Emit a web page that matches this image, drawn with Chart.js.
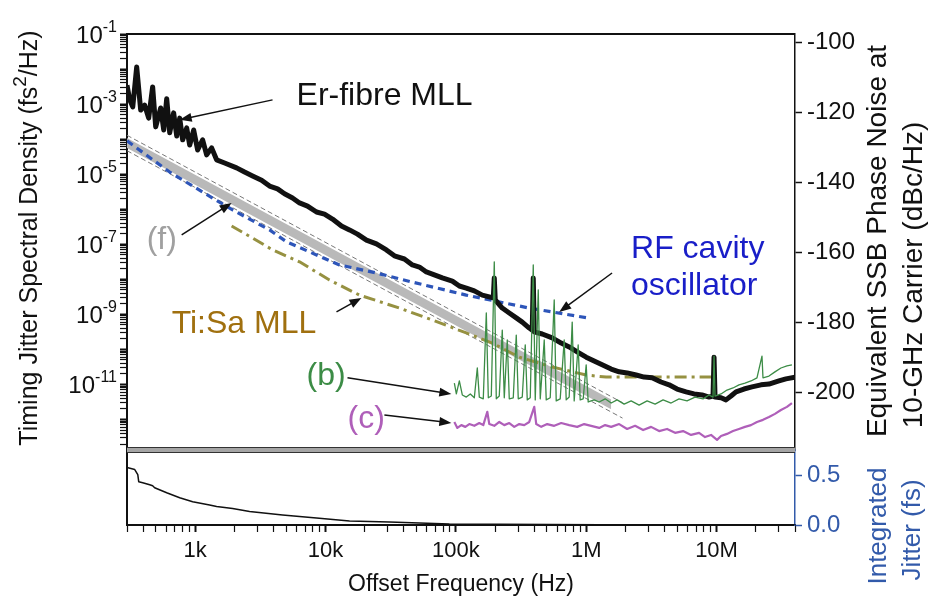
<!DOCTYPE html>
<html>
<head>
<meta charset="utf-8">
<title>Timing jitter spectral density</title>
<script src="https://cdn.jsdelivr.net/npm/chart.js@4.4.1/dist/chart.umd.min.js"></script>
<style>
  html, body { margin: 0; padding: 0; background: #fff; }
  #wrap { position: relative; width: 928px; height: 607px; overflow: hidden; }
  #psd { position: absolute; left: 0; top: 0; }
  #jit { position: absolute; left: 0; top: 445px; }
</style>
</head>
<body>
<div id="wrap">
  <canvas id="psd" width="928" height="455"></canvas>
  <canvas id="jit" width="928" height="162"></canvas>
</div>
<script>
// Series: [offset frequency (Hz), log10 of timing jitter PSD (fs^2/Hz)]
const erFibre = [
  [300,-2.46],[315,-2.88],[332,-3.08],[356,-1.94],[382,-3.17],[410,-3.03],[440,-3.40],[472,-2.51],
  [498,-3.65],[544,-3.11],[574,-3.74],[605,-2.85],[638,-3.82],[684,-3.25],[722,-3.91],[761,-3.40],
  [802,-4.02],[861,-3.68],[908,-4.17],[974,-3.74],[1045,-4.31],[1141,-4.02],[1225,-4.45],[1338,-4.25],
  [1461,-4.59],[1683,-4.68],[2080,-4.82],[2394,-4.94],[2758,-5.05],[3233,-5.17],[3723,-5.34],[4287,-5.42],
  [4850,-5.56],[5586,-5.68],[6321,-5.82],[7280,-5.91],[8531,-6.08],[9824,-6.14],[11310,-6.28],[13260,-6.48],
  [15280,-6.59],[17590,-6.71],[20620,-6.88],[24590,-6.99],[29340,-7.16],[33790,-7.33],[40300,-7.42],
  [46420,-7.59],[52520,-7.65],[59410,-7.79],[66060,-7.85],[78790,-7.96],[94000,-8.05],[106400,-8.19],
  [120300,-8.25],[138600,-8.33],[159600,-8.45],[180600,-8.50],[193800,-8.53],[197200,-7.96],[200700,-8.59],
  [227100,-8.82],[257000,-8.96],[290800,-9.10],[323300,-9.22],[365800,-9.39],[385700,-9.45],[392600,-7.96],
  [399600,-9.50],[460000,-9.56],[548800,-9.67],[643200,-9.82],[740600,-9.93],[853100,-10.07],[1.0e6,-10.22],
  [1.151e6,-10.33],[1.326e6,-10.44],[1.555e6,-10.56],[1.79e6,-10.64],[2.062e6,-10.67],[2.416e6,-10.73],
  [2.782e6,-10.79],[3.204e6,-10.81],[3.755e6,-10.93],[4.325e6,-11.01],[4.981e6,-11.13],[5.84e6,-11.21],
  [6.724e6,-11.27],[7.743e6,-11.30],[8.76e6,-11.36],[9.40e6,-11.33],[9.57e6,-10.22],[9.74e6,-11.36],
  [1.083e7,-11.38],[1.182e7,-11.44],[1.292e7,-11.33],[1.411e7,-11.21],[1.624e7,-11.13],[1.871e7,-11.07],
  [2.193e7,-11.01],[2.526e7,-10.99],[3.012e7,-10.90],[3.409e7,-10.84],[4.0e7,-10.79]
];
const rfCavity = [
  [300,-4.05],[638,-4.94],[1141,-5.51],[1938,-6.02],[3723,-6.59],[5024,-6.93],[12800,-7.59],
  [24590,-7.82],[46420,-8.08],[120300,-8.45],[365800,-8.82],[1.018e6,-9.10]
];
const tiSapphire = [
  [1904,-6.48],[2758,-6.82],[3925,-7.16],[6321,-7.50],[10730,-8.02],[18220,-8.45],[36900,-8.82],
  [66060,-9.16],[120300,-9.53],[190400,-9.82],[306600,-10.22],[548800,-10.50],[1.0e6,-10.73],
  [1.423e6,-10.79],[9.24e6,-10.79]
];
// (f): shaded range with dashed bounds
const bandTop = [[300,-3.97],[1.555e6,-11.43]];
const bandBottom = [[300,-4.25],[1.555e6,-11.71]];
const boundUpper = [[300,-3.89],[1.9e6,-11.52]];
const boundLower = [[300,-4.33],[1.9e6,-11.96]];
// (b) out-of-loop measurement
const traceB = [
  [97400,-10.96],[100900,-11.27],[106400,-10.90],[112100,-11.30],[120300,-11.36],[129100,-11.27],
  [138600,-11.38],[146100,-10.53],[151400,-11.36],[162400,-11.41],[171300,-8.96],[177500,-11.38],
  [187100,-11.33],[197200,-7.50],[204300,-11.41],[215400,-11.33],[227100,-9.45],[235300,-11.38],
  [248100,-9.73],[257000,-11.41],[275800,-11.38],[290800,-9.59],[301200,-11.41],[323300,-11.36],
  [340800,-9.87],[353100,-11.44],[372300,-11.38],[392600,-7.59],[406700,-11.44],[428800,-8.30],
  [444100,-11.41],[476600,-9.73],[493600,-11.44],[529800,-11.38],[568600,-8.59],[589000,-11.47],
  [632000,-11.41],[678200,-9.73],[702600,-11.44],[740600,-11.36],[781200,-9.22],[809100,-11.47],
  [868200,-9.87],[899500,-11.44],[948400,-11.41],[1.0e6,-10.44],[1.036e6,-11.50],[1.151e6,-11.44],
  [1.258e6,-11.50],[1.398e6,-11.41],[1.555e6,-11.53],[1.728e6,-11.44],[1.955e6,-11.56],[2.212e6,-11.47],
  [2.547e6,-11.59],[2.934e6,-11.47],[3.379e6,-11.56],[3.89e6,-11.44],[4.481e6,-11.53],[5.159e6,-11.41],
  [5.941e6,-11.47],[6.843e6,-11.36],[7.88e6,-11.41],[8.76e6,-11.30],[9.4e6,-11.36],[9.57e6,-10.19],
  [9.74e6,-11.33],[1.083e7,-11.27],[1.203e7,-11.16],[1.338e7,-11.10],[1.487e7,-11.01],[1.653e7,-10.96],
  [1.838e7,-10.90],[2.043e7,-10.81],[2.232e7,-10.19],[2.272e7,-10.81],[2.526e7,-10.76],[2.807e7,-10.64],
  [3.121e7,-10.53],[3.469e7,-10.47],[3.789e7,-10.44]
];
// (c) measurement floor
const traceC = [
  [97400,-12.07],[102700,-12.24],[110200,-12.16],[118300,-12.21],[126900,-12.13],[138600,-12.18],
  [151400,-12.10],[162400,-12.16],[174300,-11.78],[180600,-12.13],[197200,-12.18],[215400,-12.07],
  [235300,-12.16],[257000,-12.10],[280700,-12.21],[306600,-12.13],[334800,-12.16],[365800,-12.07],
  [399600,-11.64],[413800,-12.13],[451900,-12.21],[502400,-12.13],[568600,-12.18],[643200,-12.10],
  [740600,-12.16],[853100,-12.21],[965200,-12.13],[1.092e6,-12.18],[1.258e6,-12.24],[1.398e6,-12.16],
  [1.555e6,-12.21],[1.79e6,-12.13],[2.062e6,-12.27],[2.373e6,-12.18],[2.734e6,-12.30],[3.148e6,-12.21],
  [3.625e6,-12.33],[4.175e6,-12.27],[4.808e6,-12.38],[5.537e6,-12.33],[6.376e6,-12.44],[7.343e6,-12.38],
  [8.164e6,-12.50],[9.075e6,-12.44],[1.009e7,-12.58],[1.083e7,-12.47],[1.203e7,-12.41],[1.338e7,-12.33],
  [1.487e7,-12.27],[1.653e7,-12.21],[1.838e7,-12.16],[2.043e7,-12.07],[2.272e7,-12.01],[2.526e7,-11.93],
  [2.807e7,-11.84],[3.121e7,-11.73],[3.469e7,-11.64],[3.789e7,-11.53]
];
// Integrated jitter from f up to 40 MHz: [Hz, fs]
const integratedJitter = [
  [300,0.574],[344,0.554],[363,0.504],[369,0.433],[396,0.423],[448,0.403],[472,0.393],[489,0.373],
  [605,0.322],[761,0.272],[957,0.232],[1291,0.201],[1461,0.185],[1938,0.165],[2616,0.135],[4683,0.101],
  [8531,0.070],[15280,0.040],[30940,0.030],[89180,0.010],[1.258e6,0.003],[4e7,0]
];

// axis setup
const F_MIN = 300, F_MAX = 4e7;
const LOG_MIN = -12.87, LOG_MAX = -1;
const DBC_OFFSET = -87.6;          // dBc/Hz at 10 GHz = 10*log10(fs^2/Hz) + offset
const decadeLabels = [-1, -3, -5, -7, -9, -11];
const dbcTicks = [-200, -180, -160, -140, -120, -100];
const jitterTicks = [0, 0.25, 0.5, 0.75];
const freqNames = { 3: '1k', 4: '10k', 5: '100k', 6: '1M', 7: '10M' };

const notes = [
  { text: 'Er-fibre MLL', f: 5995, v: -3.03, color: '#111' },
  { text: '(f)', f: 425, v: -7.13, color: 'rgb(160,160,160)' },
  { text: 'RF cavity', f: 2.21e6, v: -7.39, color: 'rgb(25,30,200)' },
  { text: 'oscillator', f: 2.21e6, v: -8.45, color: 'rgb(25,30,200)' },
  { text: 'Ti:Sa MLL', f: 660, v: -9.53, color: 'rgb(160,112,15)' },
  { text: '(b)', f: 7150, v: -11.01, color: 'rgb(60,140,70)' },
  { text: '(c)', f: 14750, v: -12.24, color: 'rgb(175,95,185)' }
];
const pointers = [
  [[3925, -2.88], [761, -3.45]],
  [[788, -6.73], [1904, -5.82]],
  [[1.58e6, -7.82], [6.21e5, -8.93]],
  [[12150, -8.93], [18870, -8.53]],
  [[14750, -10.81], [92400, -11.27]],
  [[28300, -11.87], [92400, -12.10]]
];

const FONT = "'Liberation Sans', Arial, sans-serif";
const INK = '#111';
const BLUE_AXIS = 'rgb(50,90,170)';
Chart.defaults.font.family = FONT;
Chart.defaults.color = INK;

const toPsd = (arr) => arr.map(([f, v]) => ({ x: f, y: Math.pow(10, v) }));
const toXY = (arr) => arr.map(([f, v]) => ({ x: f, y: v }));

function logTicks(min, max) {
  const out = [];
  for (let e = Math.floor(Math.log10(min)); e <= Math.ceil(Math.log10(max)); e++) {
    for (let m = 1; m < 10; m++) {
      const v = m * Math.pow(10, e);
      if (v >= min * 0.999 && v <= max * 1.001) out.push({ value: v, major: m === 1 });
    }
  }
  return out;
}
const tickW = (ctx) => (ctx.tick && ctx.tick.major ? 2 : 1.2);

// fixed axis width, and no extra room for half-labels at the ends
const fixWidth = (w) => (s) => { s.width = w; s.paddingTop = 0; s.paddingBottom = 0; };

function line(data, color, width, dash, extra) {
  return Object.assign({
    data, borderColor: color, borderWidth: width, borderDash: dash || [],
    pointRadius: 0, tension: 0, fill: false, borderJoinStyle: 'round'
  }, extra || {});
}

function arrow(ctx, x0, y0, x1, y1) {
  const a = Math.atan2(y1 - y0, x1 - x0);
  const head = 12, half = 4.5;
  ctx.beginPath();
  ctx.moveTo(x0, y0);
  ctx.lineTo(x1 - head * 0.8 * Math.cos(a), y1 - head * 0.8 * Math.sin(a));
  ctx.stroke();
  ctx.beginPath();
  ctx.moveTo(x1, y1);
  ctx.lineTo(x1 - head * Math.cos(a) + half * Math.sin(a), y1 - head * Math.sin(a) - half * Math.cos(a));
  ctx.lineTo(x1 - head * Math.cos(a) - half * Math.sin(a), y1 - head * Math.sin(a) + half * Math.cos(a));
  ctx.closePath();
  ctx.fill();
}

function vText(ctx, text, x, y, size, color) {
  ctx.save();
  ctx.translate(x, y);
  ctx.rotate(-Math.PI / 2);
  ctx.font = `${size}px ${FONT}`;
  ctx.fillStyle = color;
  ctx.textAlign = 'center';
  ctx.textBaseline = 'middle';
  ctx.fillText(text, 0, 0);
  ctx.restore();
}

// labels, arrows, titles and frame of the spectrum panel
const psdDecor = {
  id: 'psdDecor',
  afterDraw(chart) {
    const { ctx, chartArea: area, scales } = chart;
    const sx = scales.x, sy = scales.y;
    ctx.save();

    ctx.strokeStyle = INK;
    ctx.lineWidth = 2;
    ctx.beginPath();
    ctx.moveTo(area.left - 1, area.top);
    ctx.lineTo(area.right, area.top);
    ctx.stroke();

    // 10^n labels on the left axis
    ctx.fillStyle = INK;
    ctx.textAlign = 'left';
    ctx.textBaseline = 'alphabetic';
    const labelRight = area.left - 10;
    for (const e of decadeLabels) {
      const y = sy.getPixelForValue(Math.pow(10, e));
      const sup = '-' + Math.abs(e);
      ctx.font = `16px ${FONT}`;
      const supW = ctx.measureText(sup).width;
      ctx.fillText(sup, labelRight - supW, y - 2);
      ctx.font = `24px ${FONT}`;
      const baseW = ctx.measureText('10').width;
      ctx.fillText('10', labelRight - supW - baseW, y + 9);
    }

    // left title with superscript
    ctx.save();
    ctx.translate(30, 238);
    ctx.rotate(-Math.PI / 2);
    ctx.fillStyle = INK;
    ctx.textBaseline = 'middle';
    const parts = [['Timing Jitter Spectral Density (fs', 25, 0], ['2', 19, -9], ['/Hz)', 25, 0]];
    let total = 0;
    for (const [t, s] of parts) { ctx.font = `${s}px ${FONT}`; total += ctx.measureText(t).width; }
    let cx = -total / 2;
    for (const [t, s, dy] of parts) {
      ctx.font = `${s}px ${FONT}`;
      ctx.fillText(t, cx, dy);
      cx += ctx.measureText(t).width;
    }
    ctx.restore();

    vText(ctx, 'Equivalent SSB Phase Noise at', 878, 241, 28, INK);
    vText(ctx, '10-GHz Carrier (dBc/Hz)', 914, 275, 28, INK);

    // annotations
    ctx.font = `32px ${FONT}`;
    ctx.textAlign = 'left';
    ctx.textBaseline = 'alphabetic';
    for (const n of notes) {
      ctx.fillStyle = n.color;
      ctx.fillText(n.text, sx.getPixelForValue(n.f), sy.getPixelForValue(Math.pow(10, n.v)));
    }
    ctx.strokeStyle = INK;
    ctx.fillStyle = INK;
    ctx.lineWidth = 1.5;
    for (const [[f0, v0], [f1, v1]] of pointers) {
      arrow(ctx,
        sx.getPixelForValue(f0), sy.getPixelForValue(Math.pow(10, v0)),
        sx.getPixelForValue(f1), sy.getPixelForValue(Math.pow(10, v1)));
    }
    ctx.restore();
  }
};

new Chart(document.getElementById('psd'), {
  type: 'line',
  data: {
    datasets: [
      line(toPsd(traceB), 'rgb(60,140,70)', 1.3),
      line(toPsd(traceC), 'rgb(175,95,185)', 2.2),
      line(toPsd(erFibre), '#111', 5),
      line(toPsd(rfCavity), 'rgb(45,85,185)', 3.2, [7, 5]),
      line(toPsd(tiSapphire), 'rgb(150,145,65)', 3, [12, 5, 3, 5]),
      line(toPsd(boundUpper), 'rgb(120,120,120)', 1, [5, 3]),
      line(toPsd(boundLower), 'rgb(120,120,120)', 1, [5, 3]),
      line(toPsd(bandTop), 'rgba(0,0,0,0)', 0, [], { fill: '+1', backgroundColor: 'rgb(185,185,185)' }),
      line(toPsd(bandBottom), 'rgba(0,0,0,0)', 0)
    ]
  },
  options: {
    responsive: false,
    animation: false,
    devicePixelRatio: 1,
    events: [],
    layout: { padding: { top: 34, bottom: 5, left: 0, right: 0 } },
    plugins: { legend: { display: false }, tooltip: { enabled: false } },
    scales: {
      x: { type: 'logarithmic', min: F_MIN, max: F_MAX, display: false },
      y: {
        type: 'logarithmic',
        position: 'left',
        min: Math.pow(10, LOG_MIN),
        max: Math.pow(10, LOG_MAX),
        afterBuildTicks: (s) => { s.ticks = logTicks(s.min, s.max); },
        afterFit: fixWidth(127),
        ticks: { display: false },
        grid: { drawOnChartArea: false, tickLength: 7, tickColor: INK, tickWidth: tickW },
        border: { color: INK, width: 2 }
      },
      yr: {
        type: 'linear',
        position: 'right',
        min: 10 * LOG_MIN + DBC_OFFSET,
        max: 10 * LOG_MAX + DBC_OFFSET,
        afterBuildTicks: (s) => { s.ticks = dbcTicks.map((v) => ({ value: v })); },
        afterFit: fixWidth(133),
        ticks: { font: { size: 24 }, color: INK, padding: 5 },
        grid: { drawOnChartArea: false, tickLength: 7, tickColor: INK, tickWidth: 1.5 },
        border: { color: INK, width: 1.5 }
      }
    }
  },
  plugins: [psdDecor]
});

// divider and titles of the integrated jitter panel
const jitDecor = {
  id: 'jitDecor',
  afterDraw(chart) {
    const { ctx, chartArea: area } = chart;
    ctx.save();
    ctx.fillStyle = 'rgb(165,165,165)';
    ctx.fillRect(area.left, area.top - 2, area.right - area.left, 4);
    ctx.strokeStyle = '#333';
    ctx.lineWidth = 1;
    ctx.beginPath();
    ctx.moveTo(area.left, area.top - 2.5); ctx.lineTo(area.right, area.top - 2.5);
    ctx.moveTo(area.left, area.top + 2.5); ctx.lineTo(area.right, area.top + 2.5);
    ctx.stroke();
    vText(ctx, 'Integrated', 879, 526 - 445, 26, BLUE_AXIS);
    vText(ctx, 'Jitter (fs)', 913, 530 - 445, 26, BLUE_AXIS);
    ctx.restore();
  }
};

new Chart(document.getElementById('jit'), {
  type: 'line',
  data: {
    datasets: [line(toXY(integratedJitter), '#111', 1.5, [], { yAxisID: 'yj' })]
  },
  options: {
    responsive: false,
    animation: false,
    devicePixelRatio: 1,
    events: [],
    layout: { padding: { top: 5, bottom: 0, left: 0, right: 0 } },
    plugins: { legend: { display: false }, tooltip: { enabled: false } },
    scales: {
      x: {
        type: 'logarithmic',
        position: 'bottom',
        min: F_MIN,
        max: F_MAX,
        afterBuildTicks: (s) => { s.ticks = logTicks(s.min, s.max); },
        afterFit: (s) => { s.height = 82; s.paddingLeft = 0; s.paddingRight = 0; },
        ticks: {
          autoSkip: false,
          maxRotation: 0,
          font: { size: 22 },
          color: INK,
          padding: 6,
          callback: (v) => {
            const e = Math.log10(v);
            return Math.abs(e - Math.round(e)) < 1e-6 ? (freqNames[Math.round(e)] || '') : '';
          }
        },
        grid: { drawOnChartArea: false, tickLength: 7, tickColor: INK, tickWidth: tickW },
        border: { color: INK, width: 2 },
        title: { display: true, text: 'Offset Frequency (Hz)', font: { size: 23 }, color: INK, padding: { top: 4, bottom: 9 } }
      },
      yl: {
        type: 'linear',
        position: 'left',
        min: 0,
        max: 0.75,
        afterFit: fixWidth(127),
        ticks: { display: false },
        grid: { drawOnChartArea: false, drawTicks: false },
        border: { color: INK, width: 2 }
      },
      yj: {
        type: 'linear',
        position: 'right',
        min: 0,
        max: 0.75,
        afterBuildTicks: (s) => { s.ticks = jitterTicks.map((v) => ({ value: v })); },
        afterFit: fixWidth(133),
        ticks: {
          font: { size: 24 },
          color: BLUE_AXIS,
          padding: 5,
          callback: (v) => (v === 0 || v === 0.5 ? v.toFixed(1) : '')
        },
        grid: { drawOnChartArea: false, tickLength: 7, tickColor: BLUE_AXIS, tickWidth: 1.5 },
        border: { color: BLUE_AXIS, width: 1.5 }
      }
    }
  },
  plugins: [jitDecor]
});
</script>
</body>
</html>
